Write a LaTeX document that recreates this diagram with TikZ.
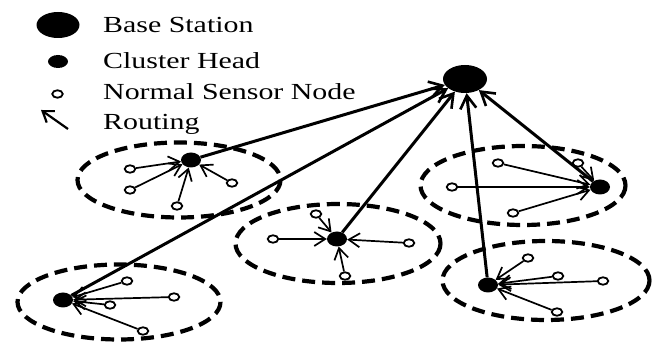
\documentclass[tikz,border=0pt]{standalone}
\usepackage{fontspec}
\usepackage{graphicx}
\setmainfont{Liberation Serif}
\usetikzlibrary{shapes.geometric,arrows.meta}
\begin{document}
\begin{tikzpicture}[x=1pt,y=-1pt,
 bsn/.style={ellipse,fill=black,minimum width=44pt,minimum height=28pt,inner sep=0pt},
 chn/.style={ellipse,fill=black,minimum width=20pt,minimum height=15pt,inner sep=0pt},
 sn/.style={ellipse,draw,line width=1.8pt,minimum width=10.5pt,minimum height=7.5pt,inner sep=0pt},
 clu/.style={draw,line width=4.2pt,dash pattern=on 13pt off 7pt},
 route/.style={line width=3pt,-{Straight Barb[length=13pt,width=16pt,line width=2.6pt]}},
 mem/.style={line width=1.7pt,-{Straight Barb[length=11pt,width=14pt,line width=1.7pt]}},
 lbl/.style={anchor=base west,inner sep=0pt,font=\fontsize{23}{26}\selectfont}]
\useasboundingbox (0,0) rectangle (657,347);
% legend
\node[ellipse,fill=black,minimum width=43pt,minimum height=26pt,inner sep=0pt] (lbs) at (58,25) {};
\node[ellipse,fill=black,minimum width=20pt,minimum height=13pt,inner sep=0pt] (lch) at (58,61.5) {};
\node[sn] (lsn) at (57.5,94) {};
\coordinate (lra) at (68,129);
\coordinate (lrb) at (41,110);
\draw[line width=2.2pt,-{Straight Barb[length=10pt,width=14pt,line width=2.2pt]}] (lra) -- (lrb);
\node[lbl] (t1) at (103,33) {\scalebox{1.3}[1]{Base Station}};
\node[lbl] (t2) at (103,69) {\scalebox{1.3}[1]{Cluster Head}};
\node[lbl] (t3) at (103,100) {\scalebox{1.3}[1]{Normal Sensor Node}};
\node[lbl] (t4) at (103,130) {\scalebox{1.3}[1]{Routing}};
% clusters
\draw[clu] (179,180) ellipse [x radius=101.5, y radius=37.5];
\draw[clu] (338,243.5) ellipse [x radius=102.5, y radius=39.5];
\draw[clu] (119,302) ellipse [x radius=101.5, y radius=37.5];
\draw[clu] (523,185.5) ellipse [x radius=102.5, y radius=39.5];
\draw[clu] (546,280.5) ellipse [x radius=103.5, y radius=39.5];
% base station and heads
\node[bsn] (bs) at (465,79) {};
\node[chn] (ch1) at (191,160) {};
\node[chn] (ch2) at (337,239) {};
\node[chn] (ch3) at (63,300) {};
\node[chn] (ch4) at (600,187) {};
\node[chn] (ch5) at (488,285) {};
% sensor nodes
\node[sn] (a1) at (130,169) {};
\node[sn] (a2) at (130,190) {};
\node[sn] (a3) at (232,183) {};
\node[sn] (a4) at (177,206) {};
\node[sn] (b1) at (316,214) {};
\node[sn] (b2) at (273,239) {};
\node[sn] (b3) at (409,243) {};
\node[sn] (b4) at (345,276) {};
\node[sn] (c1) at (127,281) {};
\node[sn] (c2) at (174,297) {};
\node[sn] (c3) at (110,305) {};
\node[sn] (c4) at (143,331) {};
\node[sn] (d1) at (498,163) {};
\node[sn] (d2) at (452,187) {};
\node[sn] (d3) at (513,213) {};
\node[sn] (d4) at (578,163) {};
\node[sn] (e1) at (528,258) {};
\node[sn] (e2) at (558,276) {};
\node[sn] (e3) at (603,281) {};
\node[sn] (e4) at (557,312) {};
% member routing
\foreach \s in {a1,a2,a3,a4} \draw[mem] (\s) -- (ch1);
\foreach \s in {b1,b2,b3,b4} \draw[mem] (\s) -- (ch2);
\foreach \s in {c1,c2,c3,c4} \draw[mem] (\s) -- (ch3);
\foreach \s in {d1,d2,d3,d4} \draw[mem] (\s) -- (ch4);
\foreach \s in {e1,e2,e3,e4} \draw[mem] (\s) -- (ch5);
% head routing
\foreach \h in {ch1,ch2,ch3,ch4,ch5} \draw[route] (\h) -- (bs);
\end{tikzpicture}
\end{document}
